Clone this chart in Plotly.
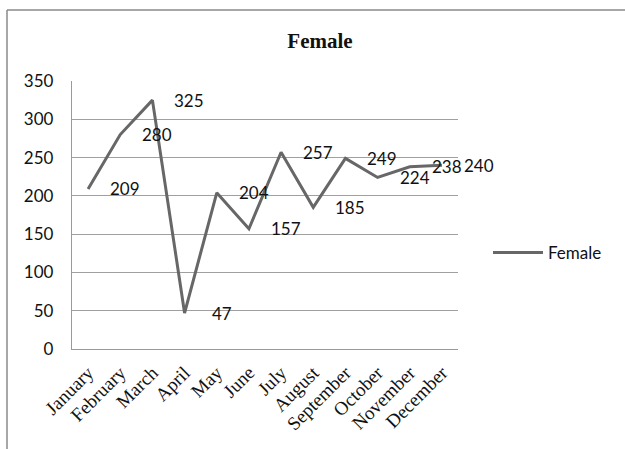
import plotly.graph_objects as go

months = ["January", "February", "March", "April", "May", "June", "July",
          "August", "September", "October", "November", "December"]
female = [209, 280, 325, 47, 204, 157, 257, 185, 249, 224, 238, 240]
y_ticks = [0, 50, 100, 150, 200, 250, 300, 350]

W, H = 625, 449
L, R, T, B = 72, 167, 81, 100
pw, ph = W - L - R, H - T - B

def px_to_paper_x(px):
    return (px - L) / pw

def px_to_paper_y(py):
    return (H - B - py) / ph

fig = go.Figure()
fig.add_trace(go.Scatter(
    x=months, y=female, mode="lines", name="Female",
    line=dict(color="#676767", width=3),
))

for m, v in zip(months, female):
    fig.add_annotation(x=m, y=v, text=str(v), showarrow=False,
                       xanchor="center", yanchor="middle", xshift=37,
                       font=dict(family="Lato", size=17, color="#111111"))

# outer chart border: only the left and top edges fall inside the frame
border = dict(color="#8a8a8a", width=1.5)
fig.add_shape(type="line", xref="paper", yref="paper",
              x0=px_to_paper_x(7), x1=px_to_paper_x(7),
              y0=px_to_paper_y(460), y1=px_to_paper_y(10), line=border, layer="below")
fig.add_shape(type="line", xref="paper", yref="paper",
              x0=px_to_paper_x(7), x1=px_to_paper_x(W + 5),
              y0=px_to_paper_y(10), y1=px_to_paper_y(10), line=border, layer="below")

fig.update_layout(
    width=W, height=H,
    margin=dict(l=L, r=R, t=T, b=B),
    paper_bgcolor="white", plot_bgcolor="white",
    title=dict(text="<b>Female</b>", x=320 / W, xref="container", xanchor="center",
               y=1 - 41 / H, yref="container", yanchor="middle",
               font=dict(family="Liberation Serif", size=21, color="#111111")),
    showlegend=True,
    legend=dict(x=px_to_paper_x(488), y=px_to_paper_y(253), xanchor="left", yanchor="middle",
                font=dict(family="Lato", size=17, color="#111111"),
                bgcolor="rgba(0,0,0,0)", itemwidth=50),
    xaxis=dict(type="category", range=[-0.5, 11.5], showgrid=False,
               showline=True, linecolor="#9a9a9a", linewidth=1.3,
               ticks="", tickangle=-45, ticklabelstandoff=4,
               tickfont=dict(family="Liberation Serif", size=19, color="#111111")),
    yaxis=dict(range=[0, 350], tickvals=y_ticks, showgrid=True, gridcolor="#a0a0a0",
               gridwidth=1, showline=True, linecolor="#9a9a9a", linewidth=1.3,
               zeroline=False, ticks="", ticklabelstandoff=14,
               tickfont=dict(family="Lato", size=17, color="#111111")),
)

fig.write_html("out.html")
